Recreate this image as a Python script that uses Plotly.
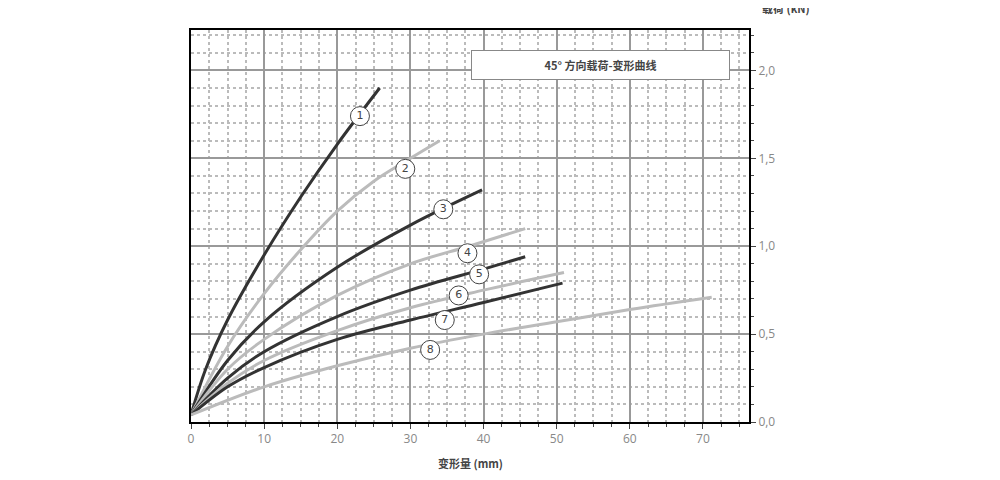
import plotly.graph_objects as go

labels = ["1", "2", "3", "4", "5", "6", "7", "8"]
colors = ["#333333", "#bbbbbb", "#333333", "#bbbbbb", "#333333", "#bbbbbb", "#333333", "#bbbbbb"]
xs = [
    [0, 2, 5, 10, 15, 20, 25.8],
    [0, 5, 10, 15, 20, 25, 30, 34],
    [0, 5, 10, 20, 30, 39.8],
    [0, 5, 10, 20, 30, 38, 45.7],
    [0, 5, 10, 20, 30, 40, 45.7],
    [0, 5, 10, 20, 30, 40, 51],
    [0, 5, 10, 20, 30, 40, 50.8],
    [0, 10, 20, 30, 40, 50, 60, 71.2],
]
ys = [
    [0.04, 0.3, 0.58, 0.95, 1.28, 1.58, 1.9],
    [0.04, 0.43, 0.73, 0.98, 1.2, 1.37, 1.5, 1.6],
    [0.04, 0.35, 0.57, 0.88, 1.12, 1.32],
    [0.04, 0.3, 0.47, 0.72, 0.9, 1.0, 1.1],
    [0.04, 0.25, 0.4, 0.6, 0.75, 0.87, 0.94],
    [0.04, 0.22, 0.35, 0.52, 0.65, 0.75, 0.85],
    [0.04, 0.2, 0.31, 0.47, 0.58, 0.68, 0.79],
    [0.04, 0.2, 0.32, 0.42, 0.5, 0.57, 0.64, 0.71],
]
label_x = [23.1, 29.3, 34.5, 37.8, 39.4, 36.6, 34.7, 32.7]
label_y = [1.74, 1.44, 1.21, 0.96, 0.84, 0.72, 0.58, 0.41]

fig = go.Figure()
for i in range(len(labels)):
    fig.add_trace(go.Scatter(x=xs[i], y=ys[i], mode="lines", line_shape="spline",
                             line=dict(color=colors[i], width=3), showlegend=False))
fig.add_trace(go.Scatter(x=label_x, y=label_y, mode="markers+text", text=labels,
                         marker=dict(size=19, color="white", line=dict(color="#444", width=1)),
                         textfont=dict(size=11, color="#444", family="DejaVu Sans"),
                         showlegend=False))

fig.update_xaxes(range=[0, 76.3], dtick=10, tick0=0, showgrid=True, gridcolor="#999", gridwidth=1.5,
                 minor=dict(dtick=2.5, showgrid=True, gridcolor="#bbb", griddash="dot", ticks="outside", ticklen=3),
                 ticks="outside", ticklen=5, showline=True, linecolor="black", linewidth=2, mirror=True,
                 zeroline=False, tickfont=dict(size=12, color="#888"))
fig.update_yaxes(range=[0, 2.23], dtick=0.5, tick0=0, side="right", tickformat=".1f",
                 showgrid=True, gridcolor="#999", gridwidth=1.5,
                 minor=dict(dtick=0.1, showgrid=True, gridcolor="#bbb", griddash="dot", ticks="outside", ticklen=3),
                 ticks="outside", ticklen=5, showline=True, linecolor="black", linewidth=2, mirror=True,
                 zeroline=False, tickfont=dict(size=12, color="#888"))

fig.add_annotation(x=56, y=2.03, xref="x", yref="y", text="<b>45° 方向载荷-变形曲线</b>", showarrow=False,
                   bgcolor="white", bordercolor="#888", borderwidth=1, borderpad=6, width=245,
                   font=dict(size=11, color="#444", family="Noto Sans CJK SC"))
fig.add_annotation(x=1.02, y=1.03, xref="paper", yref="paper", xanchor="left", yanchor="bottom",
                   text="<b>载荷 (kN)</b>", showarrow=False,
                   font=dict(size=11, color="#444", family="Noto Sans CJK SC"))
fig.add_annotation(x=(475 - 190) / (758 - 190), y=-0.08, xref="paper", yref="paper", yanchor="top",
                   text="<b>变形量 (mm)</b>", showarrow=False,
                   font=dict(size=11, color="#444", family="Noto Sans CJK SC"))

fig.update_layout(width=1000, height=480, margin=dict(l=183, r=259, t=22, b=66),
                  paper_bgcolor="white", plot_bgcolor="white", separators=",.")
fig.write_html("out.html")
